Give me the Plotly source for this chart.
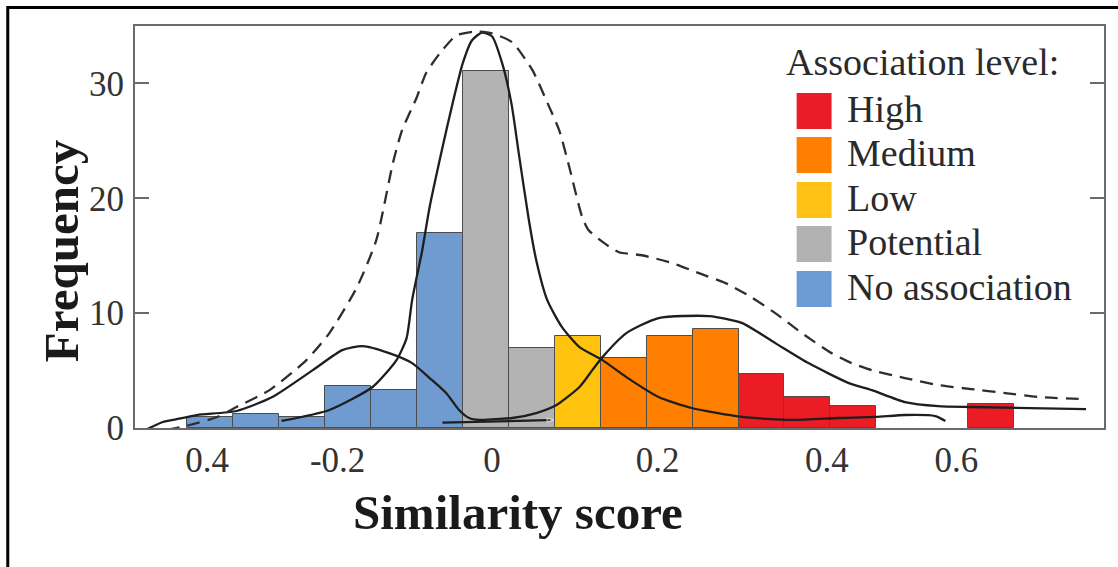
import plotly.graph_objects as go

# ---------------- data ----------------
# histogram bins (bin width 0.05), grouped by association level
no_assoc_x = [-0.30, -0.25, -0.20, -0.15, -0.10, -0.05]
no_assoc_y = [1.0, 1.25, 0.95, 3.7, 3.3, 17.0]
potential_x = [0.00, 0.05]
potential_y = [31.1, 7.0]
low_x = [0.10]
low_y = [8.0]
medium_x = [0.15, 0.20, 0.25]
medium_y = [6.1, 8.0, 8.6]
high_x = [0.30, 0.35, 0.40, 0.55]
high_y = [4.7, 2.7, 1.9, 2.1]

# fitted density curves
bimodal_fit_x = [-0.368, -0.351, -0.340, -0.314, -0.271, -0.232, -0.188, -0.156, -0.134, -0.105,
                 -0.080, -0.061, -0.043, -0.029, -0.018, -0.007, 0.011, 0.029, 0.055, 0.077,
                 0.102, 0.116, 0.127, 0.153, 0.188, 0.243, 0.279, 0.315, 0.351, 0.395,
                 0.420, 0.456, 0.492, 0.528, 0.653]
bimodal_fit_y = [-0.09, 0.52, 0.70, 1.13, 1.48, 2.70, 5.04, 6.78, 7.13, 6.52,
                 5.65, 4.35, 3.04, 1.57, 0.87, 0.70, 0.78, 0.87, 1.30, 2.00,
                 3.57, 5.04, 6.17, 8.26, 9.57, 9.74, 9.13, 7.39, 5.65, 3.91,
                 3.30, 2.26, 1.91, 1.83, 1.65]

central_fit_x = [-0.222, -0.170, -0.123, -0.097, -0.086, -0.080, -0.069, -0.061, -0.047, -0.036,
                 -0.025, -0.015, -0.004, 0.007, 0.018, 0.028, 0.036, 0.047, 0.055, 0.067,
                 0.083, 0.102, 0.127, 0.153, 0.188, 0.224, 0.279, 0.333, 0.384, 0.424,
                 0.456, 0.489, 0.500]
central_fit_y = [0.61, 1.57, 3.57, 5.91, 7.83, 11.13, 15.48, 19.22, 24.43, 28.26,
                 31.74, 33.74, 34.43, 34.09, 31.74, 28.26, 23.91, 18.09, 14.61, 11.13,
                 8.78, 7.04, 5.91, 4.43, 2.70, 1.74, 0.96, 0.70, 0.87, 0.96,
                 1.13, 1.04, 0.61]

overall_x = [-0.347, -0.322, -0.292, -0.271, -0.235, -0.195, -0.170, -0.140, -0.119, -0.101,
             -0.091, -0.075, -0.065, -0.050, -0.032, -0.012, 0.007, 0.029, 0.051, 0.066,
             0.080, 0.091, 0.105, 0.112, 0.129, 0.145, 0.170, 0.203, 0.232, 0.261,
             0.289, 0.315, 0.344, 0.376, 0.398, 0.420, 0.456, 0.492, 0.528, 0.565,
             0.601, 0.650]
overall_y = [-0.17, 0.26, 0.96, 1.83, 3.30, 5.91, 8.26, 12.26, 16.35, 23.04,
             25.91, 28.78, 30.87, 32.61, 34.17, 34.52, 34.35, 33.57, 31.13, 28.52,
             25.91, 22.70, 18.35, 17.22, 16.09, 15.30, 15.04, 14.35, 13.48, 12.61,
             11.39, 10.00, 8.26, 6.52, 5.65, 5.04, 4.35, 3.74, 3.39, 3.04,
             2.70, 2.52]

marker_line_x = [-0.047, 0.074]
marker_line_y = [0.46, 0.70]

tick_vals = [-0.303, -0.161, 0.007, 0.187, 0.371, 0.512]
tick_text = ["0.4", "-0.2", "0", "0.2", "0.4", "0.6"]
y_ticks = [0, 10, 20, 30]

legend_labels = ["High", "Medium", "Low", "Potential", "No association"]
legend_colors = ["#eb1c26", "#ff7f00", "#ffc214", "#b2b2b2", "#6c9ad2"]

# ---------------- styling / geometry ----------------
W, H = 1118, 567
L, T, R, B = 135, 26, 12, 139
FONT = "Liberation Serif"
BIN_W = 0.05
BAR_LINE = dict(color="#4d4d4d", width=1)


def pxx(px):
    return (px - L) / (W - L - R)


def pxy(py):
    return (H - B - py) / (H - T - B)


fig = go.Figure()

groups = [
    ("No association", no_assoc_x, no_assoc_y, "#6f9bd1"),
    ("Potential", potential_x, potential_y, "#b3b3b3"),
    ("Low", low_x, low_y, "#ffc20e"),
    ("Medium", medium_x, medium_y, "#ff8000"),
    ("High", high_x, high_y, "#ec1c24"),
]
for name, xs, ys, col in groups:
    fig.add_trace(go.Bar(x=xs, y=ys, width=BIN_W, name=name,
                         marker=dict(color=col, line=BAR_LINE), showlegend=False))

line_col = "#1e1e1e"
fig.add_trace(go.Scatter(x=bimodal_fit_x, y=bimodal_fit_y, mode="lines",
                         line=dict(color=line_col, width=2.3, shape="spline", smoothing=0.6),
                         showlegend=False))
fig.add_trace(go.Scatter(x=central_fit_x, y=central_fit_y, mode="lines",
                         line=dict(color=line_col, width=2.3, shape="spline", smoothing=0.6),
                         showlegend=False))
fig.add_trace(go.Scatter(x=overall_x, y=overall_y, mode="lines",
                         line=dict(color="#2e2e2e", width=2.3, dash="13px,8px",
                                   shape="spline", smoothing=0.6),
                         showlegend=False))
fig.add_trace(go.Scatter(x=marker_line_x, y=marker_line_y, mode="lines+markers",
                         line=dict(color=line_col, width=2.3),
                         marker=dict(symbol="arrow", size=[0, 7], angleref="previous",
                                     color=line_col),
                         showlegend=False))

shapes = []
annotations = []

# legend (drawn manually to match the large swatches)
annotations.append(dict(text="Association level:", x=pxx(785), y=pxy(62), xref="paper", yref="paper",
                        xanchor="left", yanchor="middle", showarrow=False,
                        font=dict(family=FONT, size=38, color="#2a2a2a")))
row_centers = [111, 155, 200, 244, 289]
for lab, col, cy in zip(legend_labels, legend_colors, row_centers):
    shapes.append(dict(type="rect", xref="paper", yref="paper",
                       x0=pxx(798), x1=pxx(833), y0=pxy(cy + 18), y1=pxy(cy - 18),
                       fillcolor=col, line=dict(width=0)))
    annotations.append(dict(text=lab, x=pxx(846), y=pxy(cy - 2), xref="paper", yref="paper",
                            xanchor="left", yanchor="middle", showarrow=False,
                            font=dict(family=FONT, size=38, color="#2a2a2a")))

# axis titles
annotations.append(dict(text="<b>Similarity score</b>", x=pxx(519), y=pxy(512), xref="paper", yref="paper",
                        xanchor="center", yanchor="middle", showarrow=False,
                        font=dict(family=FONT, size=49, color="#1a1a1a")))
annotations.append(dict(text="<b>Frequency</b>", x=pxx(62), y=pxy(251), xref="paper", yref="paper",
                        xanchor="center", yanchor="middle", showarrow=False, textangle=-90,
                        font=dict(family=FONT, size=49, color="#1a1a1a")))

# outer frame (left and top edges visible)
shapes.append(dict(type="path", xref="paper", yref="paper",
                   path=f"M {pxx(7.5)},{pxy(600)} L {pxx(7.5)},{pxy(7.5)} L {pxx(1130)},{pxy(7.5)}",
                   line=dict(color="#000000", width=3)))

fig.update_layout(
    width=W, height=H,
    margin=dict(l=L, r=R, t=T, b=B),
    paper_bgcolor="white", plot_bgcolor="white",
    barmode="overlay", bargap=0,
    shapes=shapes, annotations=annotations,
    showlegend=False,
    font=dict(family=FONT, color="#333333"),
)
fig.update_xaxes(range=[-0.3814, 0.6725], tickvals=tick_vals, ticktext=tick_text,
                 showgrid=False, zeroline=False, showline=True, mirror=True,
                 linecolor="#6a6a6a", linewidth=2, ticks="",
                 tickfont=dict(family=FONT, size=35, color="#333333"), ticklabelstandoff=0)
fig.update_yaxes(range=[0, 35], tickvals=y_ticks, showgrid=False, zeroline=False,
                 showline=True, mirror="ticks", linecolor="#6a6a6a", linewidth=2,
                 ticks="inside", ticklen=14, tickwidth=2, tickcolor="#6a6a6a",
                 tickfont=dict(family=FONT, size=35, color="#333333"), ticklabelstandoff=2)

fig.write_html("out.html", config={"displayModeBar": False},
               post_script="document.body.style.margin='0';document.body.style.overflow='hidden';")
